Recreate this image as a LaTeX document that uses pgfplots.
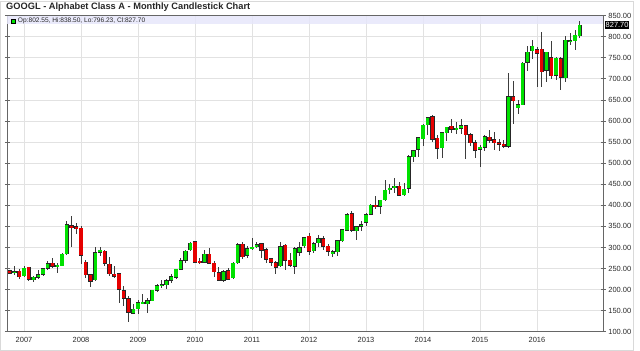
\documentclass[border=0pt]{standalone}
\usepackage{fontspec}
\setmainfont{Liberation Sans}
\usepackage{pgfplots}
\usepackage{pgfplotstable}
\pgfplotsset{compat=1.18}
\definecolor{upc}{RGB}{0,225,0}
\definecolor{dnc}{RGB}{230,0,0}
\definecolor{band}{RGB}{230,230,250}
\definecolor{gridc}{RGB}{226,226,226}
\definecolor{wick}{RGB}{60,60,60}
\definecolor{txt}{RGB}{40,40,40}

\pgfplotstableread{
t o h l c
-3 244.5 246.5 237.5 239
-2 239.5 256.5 235 242.4
-1 243.5 249.5 225 230.3
0 233 256.5 230 250.7
1 252.5 253 221.5 224.6
2 223 233 218.5 229
3 229 245.5 226 235.6
4 236 250.5 232 249
5 250.5 267 245.5 261.4
6 262.5 276 251 255
7 256 262 240 257.5
8 256.5 286 255 283.5
9 285.5 362.5 282.5 353.5
10 351.5 373.5 301 346.5
11 349 358 333 345.5
12 346 350 259.5 282
13 264.4 270.5 226.5 235.6
14 235.6 236 206 220.2
15 223.5 301 220.5 287
16 289 301 280 293
17 291 294 255 263
18 260 277.5 232.5 237
19 236 257 227 231.5
20 238 240 167 200.3
21 197.5 208.5 162 179.5
22 178.5 185 123.5 146.5
23 143.3 165 141.4 153.8
24 154.3 176 141.4 169.3
25 167 190.5 165 169
26 166.5 180 144.5 174
27 173.5 200 172.5 198
28 198.3 212.5 194 208.5
29 209.5 223.5 203 210.8
30 212 226 201 221.5
31 222.5 237 215 230.8
32 229.5 249 226 248
33 247.8 275.6 245.5 268
34 269.5 293 263 291.5
35 295 312.5 291.5 310
36 313.5 314.8 262 265
37 267.3 273.8 260.5 263.4
38 264.5 294 262.5 283.6
39 284 298.5 262 262.9
40 263 268.5 230 242.8
41 240 253.5 220 222.5
42 222.5 247.5 216.8 242.4
43 245 251.5 225 225
44 227.5 266 225.5 262.9
45 263.8 311 259.5 306.9
46 307.9 312.8 273 277.9
47 281.5 302.5 275 297
48 298.3 321.5 294 300.2
49 302.3 312.5 299 306.7
50 308.9 309.8 274.5 293.4
51 294.4 298.5 262.5 272
52 272.9 276 257 264.5
53 264 267 236.5 253.2
54 256.3 314 252.5 301.9
55 305.5 309 245.5 270
56 269 286 252.5 257.5
57 255 300.5 236.5 296.3
58 289 312.5 280 299.7
59 304.5 325 299 323
60 326.5 335 282 290.4
61 292 312.8 286 309
62 311 329.3 300 320.6
63 320.4 326.5 294 302.4
64 302.5 307.5 280.5 290.4
65 285.9 295 278.3 290
66 289.5 318 280.5 316.2
67 316.3 344.5 314 342.5
68 340.3 381 338.5 377.3
69 379.5 387.2 336.5 340.2
70 339.8 351 318 349.2
71 351 362 340 353.7
72 359.5 380.8 351.5 377.8
73 379 403.5 379 400.6
74 399 422 392 397.1
75 398 413.5 380.5 412.3
76 413.5 460.3 410 435.6
77 437.5 451.5 428 440.2
78 442.5 464.5 428.5 443.9
79 445 455.5 423 423.5
80 425 452.5 421.5 437.9
81 440.5 520.5 430 515.3
82 515.8 532 502.5 529.8
83 532.5 560.5 515 560.4
84 557.5 593 541 590.5
85 591 610 566 607.8
86 610 614.5 549.8 557.3
87 559 567 511 536
88 536 572 511.3 571.7
89 571.9 587 553 584.7
90 588 605 571 581
91 580 597 570 582
92 583 605 570 588.4
93 589 589 510 567.9
94 567 571 541 549
95 549 555 513 530.7
96 532.6 542 490.9 537.55
97 538 568 529 562.6
98 562 578.6 549 554.7
99 555 575 531 548.8
100 549 557 528 545.3
101 545 556 537 540
102 540 713 535 657.5
103 658 694 592 647.8
104 631 650 617 638.4
105 639 739 637 737.4
106 740 777.6 718 762.85
107 767 792 747 778
108 769 775 680 761.35
109 770 810.35 681.65 717.22
110 720 765 693 762.9
111 750 790 700 707.88
112 709 752 698 748.85
113 748 753 672.66 703.53
114 703 801 692 791.34
115 789 810 780 789.85
116 791 816.7 769 804.06
117 802.55 838.5 796.23 827.7
}\ohlc

\begin{document}
\begin{tikzpicture}
\useasboundingbox (0,0) rectangle (640bp,351bp);
\draw[gray!30, line width=0.8bp] (0.4bp,0.4bp) rectangle (633bp,349.6bp);
\node[anchor=west, inner sep=0pt, font=\bfseries\fontsize{9.3}{11}\selectfont, text=black!85] at (6bp,344.2bp) {GOOGL - Alphabet Class A - Monthly Candlestick Chart};
\begin{axis}[
  at={(7.3bp,19.3bp)}, anchor=south west, scale only axis,
  width=596bp, height=316bp,
  xmin=-3.52, xmax=121.96, ymin=100, ymax=850,
  clip mode=individual,
  xtick={0,12,...,108},
  xticklabels={2007,2008,2009,2010,2011,2012,2013,2014,2015,2016},
  ytick={100,150,...,850},
  yticklabel pos=right,
  grid=major,
  grid style={gridc, line width=0.8bp},
  axis line style={black!60, line width=0.8bp},
  tick style={black!60, line width=0.8bp},
  xtick style={draw=none},
  major tick length=5bp,
  tick align=center,
  /pgf/number format/assume math mode=true,
  xticklabel style={font=\fontsize{7.5}{9}\selectfont, text=txt, anchor=north, inner sep=0pt, yshift=-3.2bp},
  yticklabel style={font=\fontsize{7.5}{9}\selectfont, text=txt, anchor=west, inner sep=0pt, xshift=2.4bp,
    /pgf/number format/.cd, fixed, fixed zerofill, precision=2, 1000 sep={}},
  candle/.style={draw=none, no markers, forget plot,
    error bars/y dir=both, error bars/y explicit, error bars/error mark=none},
]
\fill[band, fill opacity=0.85] (axis cs:-3.52,830.3) rectangle (axis cs:121.96,850);
% wicks
\addplot[candle, error bars/error bar style={draw=wick, line width=0.8bp}]
  table[x=t, y expr={(\thisrow{h}+\thisrow{l})/2}, y error expr={(\thisrow{h}-\thisrow{l})/2}] {\ohlc};
% up bodies
\addplot[candle, error bars/error bar style={draw=black!85, line width=4.2bp, shorten <=-0.5bp, shorten >=-0.5bp}]
  table[x=t, y expr={\thisrow{c}>=\thisrow{o} ? (\thisrow{o}+\thisrow{c})/2 : nan},
        y error expr={max(abs(\thisrow{c}-\thisrow{o})/2,1.5)}] {\ohlc};
\addplot[candle, error bars/error bar style={draw=upc, line width=3.2bp}]
  table[x=t, y expr={\thisrow{c}>=\thisrow{o} ? (\thisrow{o}+\thisrow{c})/2 : nan},
        y error expr={max(abs(\thisrow{c}-\thisrow{o})/2,1.5)}] {\ohlc};
% down bodies
\addplot[candle, error bars/error bar style={draw=black!85, line width=4.2bp, shorten <=-0.5bp, shorten >=-0.5bp}]
  table[x=t, y expr={\thisrow{c}<\thisrow{o} ? (\thisrow{o}+\thisrow{c})/2 : nan},
        y error expr={max(abs(\thisrow{c}-\thisrow{o})/2,1.5)}] {\ohlc};
\addplot[candle, error bars/error bar style={draw=dnc, line width=3.2bp}]
  table[x=t, y expr={\thisrow{c}<\thisrow{o} ? (\thisrow{o}+\thisrow{c})/2 : nan},
        y error expr={max(abs(\thisrow{c}-\thisrow{o})/2,1.5)}] {\ohlc};
\node[anchor=west, fill=black, text=white, inner xsep=0.6bp, inner ysep=1.2bp, font=\fontsize{7.5}{9}\selectfont] at (axis cs:121.96,828.5) [xshift=1.6bp] {827.70};
\end{axis}
\draw[fill=upc, draw=black, line width=0.5bp] (11bp,327.7bp) rectangle (15.7bp,332bp);
\node[anchor=west, inner sep=0pt, font=\fontsize{6.6}{8}\selectfont, text=txt] at (17.8bp,329.9bp) {Op:802.55, Hi:838.50, Lo:796.23, Cl:827.70};
\end{tikzpicture}
\end{document}
